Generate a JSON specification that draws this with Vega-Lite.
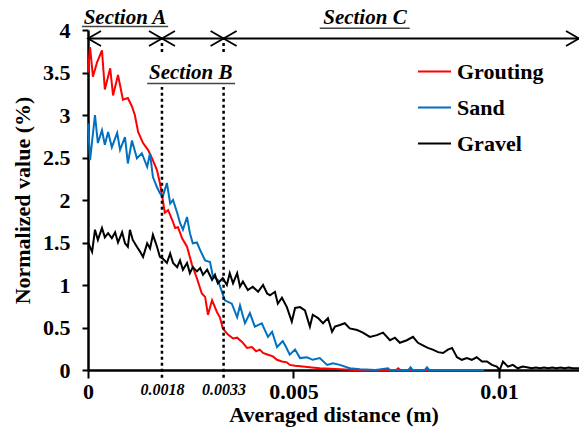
{
  "$schema": "https://vega.github.io/schema/vega-lite/v6.json",
  "width": 491,
  "height": 340,
  "autosize": {"type": "none"},
  "padding": {"left": 88, "top": 30, "right": 0, "bottom": 60},
  "background": "white",
  "config": {
    "view": {"stroke": null},
    "font": "serif",
    "axis": {"grid": false, "domainColor": "black", "tickColor": "black", "labelColor": "black", "titleColor": "black",
      "labelFont": "serif", "titleFont": "serif", "labelFontWeight": "bold", "titleFontWeight": "bold",
      "labelFontSize": 22, "titleFontSize": 22, "domainWidth": 2.5, "tickWidth": 2},
    "legend": {"labelFont": "serif"},
    "text": {"font": "serif"}
  },
  "datasets": {
    "lines": [
      {"s":"Grouting","x":0,"y":3.5},{"s":"Grouting","x":0.00005,"y":3.8},{"s":"Grouting","x":0.00012,"y":3.45},{"s":"Grouting","x":0.00022,"y":3.62},{"s":"Grouting","x":0.00034,"y":3.76},{"s":"Grouting","x":0.00041,"y":3.3},{"s":"Grouting","x":0.00054,"y":3.55},{"s":"Grouting","x":0.00061,"y":3.23},{"s":"Grouting","x":0.00073,"y":3.47},{"s":"Grouting","x":0.00085,"y":3.18},{"s":"Grouting","x":0.00097,"y":3.2},{"s":"Grouting","x":0.00107,"y":3.1},{"s":"Grouting","x":0.00114,"y":3.0},{"s":"Grouting","x":0.00122,"y":2.8},{"s":"Grouting","x":0.00134,"y":2.67},{"s":"Grouting","x":0.00146,"y":2.59},{"s":"Grouting","x":0.00156,"y":2.49},{"s":"Grouting","x":0.00168,"y":2.35},{"s":"Grouting","x":0.00175,"y":2.2},{"s":"Grouting","x":0.00182,"y":2.0},{"s":"Grouting","x":0.00187,"y":1.85},{"s":"Grouting","x":0.00195,"y":1.88},{"s":"Grouting","x":0.00207,"y":1.74},{"s":"Grouting","x":0.00212,"y":1.67},{"s":"Grouting","x":0.00219,"y":1.68},{"s":"Grouting","x":0.00229,"y":1.55},{"s":"Grouting","x":0.00241,"y":1.45},{"s":"Grouting","x":0.00253,"y":1.24},{"s":"Grouting","x":0.00265,"y":1.08},{"s":"Grouting","x":0.00277,"y":0.9},{"s":"Grouting","x":0.00285,"y":0.86},{"s":"Grouting","x":0.00292,"y":0.65},{"s":"Grouting","x":0.00302,"y":0.82},{"s":"Grouting","x":0.00314,"y":0.68},{"s":"Grouting","x":0.00321,"y":0.62},{"s":"Grouting","x":0.00328,"y":0.49},{"s":"Grouting","x":0.0034,"y":0.42},{"s":"Grouting","x":0.00353,"y":0.37},{"s":"Grouting","x":0.00363,"y":0.38},{"s":"Grouting","x":0.00375,"y":0.33},{"s":"Grouting","x":0.00387,"y":0.26},{"s":"Grouting","x":0.00399,"y":0.27},{"s":"Grouting","x":0.00409,"y":0.22},{"s":"Grouting","x":0.00418,"y":0.24},{"s":"Grouting","x":0.00426,"y":0.2},{"s":"Grouting","x":0.00438,"y":0.18},{"s":"Grouting","x":0.0045,"y":0.16},{"s":"Grouting","x":0.0046,"y":0.12},{"s":"Grouting","x":0.00472,"y":0.1},{"s":"Grouting","x":0.00484,"y":0.09},{"s":"Grouting","x":0.00491,"y":0.06},{"s":"Grouting","x":0.00504,"y":0.05},{"s":"Grouting","x":0.00523,"y":0.04},{"s":"Grouting","x":0.00545,"y":0.03},{"s":"Grouting","x":0.00564,"y":0.02},{"s":"Grouting","x":0.0059,"y":0.015},{"s":"Grouting","x":0.00613,"y":0.01},{"s":"Grouting","x":0.0065,"y":0},{"s":"Grouting","x":0.0075,"y":0},{"s":"Grouting","x":0.00755,"y":0.02},{"s":"Grouting","x":0.0076,"y":0},{"s":"Grouting","x":0.0086,"y":0},
      {"s":"Sand","x":0,"y":2.9},{"s":"Sand","x":0.00005,"y":2.47},{"s":"Sand","x":0.00017,"y":3.0},{"s":"Sand","x":0.00024,"y":2.67},{"s":"Sand","x":0.00034,"y":2.82},{"s":"Sand","x":0.00041,"y":2.65},{"s":"Sand","x":0.00049,"y":2.8},{"s":"Sand","x":0.00058,"y":2.62},{"s":"Sand","x":0.00071,"y":2.79},{"s":"Sand","x":0.00078,"y":2.59},{"s":"Sand","x":0.0009,"y":2.74},{"s":"Sand","x":0.00097,"y":2.43},{"s":"Sand","x":0.00107,"y":2.7},{"s":"Sand","x":0.00119,"y":2.49},{"s":"Sand","x":0.00131,"y":2.55},{"s":"Sand","x":0.00144,"y":2.39},{"s":"Sand","x":0.00151,"y":2.55},{"s":"Sand","x":0.00158,"y":2.27},{"s":"Sand","x":0.00168,"y":2.15},{"s":"Sand","x":0.00175,"y":2.08},{"s":"Sand","x":0.00182,"y":2.04},{"s":"Sand","x":0.00192,"y":2.2},{"s":"Sand","x":0.002,"y":1.96},{"s":"Sand","x":0.00207,"y":2.0},{"s":"Sand","x":0.00217,"y":1.85},{"s":"Sand","x":0.00224,"y":1.73},{"s":"Sand","x":0.00231,"y":1.65},{"s":"Sand","x":0.00241,"y":1.8},{"s":"Sand","x":0.00248,"y":1.61},{"s":"Sand","x":0.00255,"y":1.49},{"s":"Sand","x":0.00265,"y":1.5},{"s":"Sand","x":0.00273,"y":1.41},{"s":"Sand","x":0.00285,"y":1.29},{"s":"Sand","x":0.00297,"y":1.27},{"s":"Sand","x":0.00304,"y":1.1},{"s":"Sand","x":0.00316,"y":1.06},{"s":"Sand","x":0.00326,"y":0.92},{"s":"Sand","x":0.00333,"y":0.82},{"s":"Sand","x":0.0035,"y":0.78},{"s":"Sand","x":0.00363,"y":0.62},{"s":"Sand","x":0.0037,"y":0.76},{"s":"Sand","x":0.00382,"y":0.55},{"s":"Sand","x":0.00394,"y":0.67},{"s":"Sand","x":0.00406,"y":0.51},{"s":"Sand","x":0.00423,"y":0.55},{"s":"Sand","x":0.00438,"y":0.39},{"s":"Sand","x":0.00448,"y":0.45},{"s":"Sand","x":0.0046,"y":0.27},{"s":"Sand","x":0.00474,"y":0.34},{"s":"Sand","x":0.00482,"y":0.27},{"s":"Sand","x":0.00491,"y":0.18},{"s":"Sand","x":0.00504,"y":0.24},{"s":"Sand","x":0.00516,"y":0.14},{"s":"Sand","x":0.00533,"y":0.15},{"s":"Sand","x":0.00547,"y":0.12},{"s":"Sand","x":0.00564,"y":0.14},{"s":"Sand","x":0.00582,"y":0.06},{"s":"Sand","x":0.00596,"y":0.08},{"s":"Sand","x":0.00613,"y":0.06},{"s":"Sand","x":0.00637,"y":0.02},{"s":"Sand","x":0.00662,"y":0.01},{"s":"Sand","x":0.007,"y":0},{"s":"Sand","x":0.0073,"y":0.02},{"s":"Sand","x":0.00735,"y":0},{"s":"Sand","x":0.0078,"y":0},{"s":"Sand","x":0.00785,"y":0.03},{"s":"Sand","x":0.0079,"y":0},{"s":"Sand","x":0.0082,"y":0},{"s":"Sand","x":0.00825,"y":0.03},{"s":"Sand","x":0.0083,"y":0},{"s":"Sand","x":0.00964,"y":0},
      {"s":"Gravel","x":0,"y":1.5},{"s":"Gravel","x":0.0001,"y":1.39},{"s":"Gravel","x":0.00017,"y":1.65},{"s":"Gravel","x":0.00024,"y":1.53},{"s":"Gravel","x":0.00034,"y":1.67},{"s":"Gravel","x":0.00041,"y":1.56},{"s":"Gravel","x":0.00049,"y":1.61},{"s":"Gravel","x":0.00058,"y":1.55},{"s":"Gravel","x":0.00066,"y":1.62},{"s":"Gravel","x":0.00073,"y":1.5},{"s":"Gravel","x":0.00083,"y":1.62},{"s":"Gravel","x":0.0009,"y":1.49},{"s":"Gravel","x":0.00097,"y":1.45},{"s":"Gravel","x":0.00102,"y":1.65},{"s":"Gravel","x":0.00109,"y":1.53},{"s":"Gravel","x":0.00119,"y":1.45},{"s":"Gravel","x":0.00127,"y":1.39},{"s":"Gravel","x":0.00134,"y":1.33},{"s":"Gravel","x":0.00144,"y":1.49},{"s":"Gravel","x":0.00151,"y":1.43},{"s":"Gravel","x":0.00158,"y":1.59},{"s":"Gravel","x":0.00168,"y":1.45},{"s":"Gravel","x":0.00175,"y":1.33},{"s":"Gravel","x":0.00182,"y":1.31},{"s":"Gravel","x":0.00192,"y":1.26},{"s":"Gravel","x":0.002,"y":1.37},{"s":"Gravel","x":0.00207,"y":1.26},{"s":"Gravel","x":0.00217,"y":1.21},{"s":"Gravel","x":0.00224,"y":1.29},{"s":"Gravel","x":0.00231,"y":1.18},{"s":"Gravel","x":0.00241,"y":1.26},{"s":"Gravel","x":0.00248,"y":1.14},{"s":"Gravel","x":0.00255,"y":1.21},{"s":"Gravel","x":0.00265,"y":1.16},{"s":"Gravel","x":0.00273,"y":1.2},{"s":"Gravel","x":0.0028,"y":1.12},{"s":"Gravel","x":0.0029,"y":1.18},{"s":"Gravel","x":0.00302,"y":1.06},{"s":"Gravel","x":0.00309,"y":1.12},{"s":"Gravel","x":0.00316,"y":1.02},{"s":"Gravel","x":0.00328,"y":1.08},{"s":"Gravel","x":0.00338,"y":1.0},{"s":"Gravel","x":0.00345,"y":1.14},{"s":"Gravel","x":0.00353,"y":1.02},{"s":"Gravel","x":0.00363,"y":1.14},{"s":"Gravel","x":0.0037,"y":0.98},{"s":"Gravel","x":0.00377,"y":1.04},{"s":"Gravel","x":0.00389,"y":0.94},{"s":"Gravel","x":0.00401,"y":0.98},{"s":"Gravel","x":0.00414,"y":0.92},{"s":"Gravel","x":0.00426,"y":1.0},{"s":"Gravel","x":0.00436,"y":0.9},{"s":"Gravel","x":0.00443,"y":0.88},{"s":"Gravel","x":0.00455,"y":0.92},{"s":"Gravel","x":0.00462,"y":0.78},{"s":"Gravel","x":0.00472,"y":0.85},{"s":"Gravel","x":0.00484,"y":0.74},{"s":"Gravel","x":0.00496,"y":0.57},{"s":"Gravel","x":0.00504,"y":0.73},{"s":"Gravel","x":0.00516,"y":0.74},{"s":"Gravel","x":0.00528,"y":0.7},{"s":"Gravel","x":0.0054,"y":0.51},{"s":"Gravel","x":0.00547,"y":0.65},{"s":"Gravel","x":0.0056,"y":0.61},{"s":"Gravel","x":0.00572,"y":0.55},{"s":"Gravel","x":0.00584,"y":0.61},{"s":"Gravel","x":0.00594,"y":0.45},{"s":"Gravel","x":0.00601,"y":0.51},{"s":"Gravel","x":0.00613,"y":0.53},{"s":"Gravel","x":0.00625,"y":0.55},{"s":"Gravel","x":0.00637,"y":0.49},{"s":"Gravel","x":0.00655,"y":0.47},{"s":"Gravel","x":0.00669,"y":0.44},{"s":"Gravel","x":0.00686,"y":0.39},{"s":"Gravel","x":0.00703,"y":0.41},{"s":"Gravel","x":0.00718,"y":0.44},{"s":"Gravel","x":0.00735,"y":0.35},{"s":"Gravel","x":0.00747,"y":0.38},{"s":"Gravel","x":0.00759,"y":0.32},{"s":"Gravel","x":0.00776,"y":0.35},{"s":"Gravel","x":0.00791,"y":0.39},{"s":"Gravel","x":0.00803,"y":0.32},{"s":"Gravel","x":0.00815,"y":0.29},{"s":"Gravel","x":0.00827,"y":0.26},{"s":"Gravel","x":0.00839,"y":0.24},{"s":"Gravel","x":0.00852,"y":0.21},{"s":"Gravel","x":0.00864,"y":0.2},{"s":"Gravel","x":0.00876,"y":0.24},{"s":"Gravel","x":0.00886,"y":0.26},{"s":"Gravel","x":0.00898,"y":0.15},{"s":"Gravel","x":0.0091,"y":0.12},{"s":"Gravel","x":0.00922,"y":0.14},{"s":"Gravel","x":0.00934,"y":0.12},{"s":"Gravel","x":0.00946,"y":0.15},{"s":"Gravel","x":0.00959,"y":0.1},{"s":"Gravel","x":0.00971,"y":0.1},{"s":"Gravel","x":0.00983,"y":0.06},{"s":"Gravel","x":0.00995,"y":0.04},{"s":"Gravel","x":0.01002,"y":0},{"s":"Gravel","x":0.0101,"y":0.1},{"s":"Gravel","x":0.01022,"y":0.04},{"s":"Gravel","x":0.01034,"y":0.06},{"s":"Gravel","x":0.01046,"y":0.02},{"s":"Gravel","x":0.01058,"y":0.04},{"s":"Gravel","x":0.01071,"y":0.03},{"s":"Gravel","x":0.0108,"y":0.02},{"s":"Gravel","x":0.0109,"y":0.03},{"s":"Gravel","x":0.011,"y":0.02},{"s":"Gravel","x":0.0111,"y":0.03},{"s":"Gravel","x":0.0112,"y":0.02},{"s":"Gravel","x":0.0113,"y":0.03},{"s":"Gravel","x":0.0114,"y":0.02},{"s":"Gravel","x":0.0115,"y":0.03},{"s":"Gravel","x":0.0116,"y":0.02},{"s":"Gravel","x":0.0117,"y":0.03},{"s":"Gravel","x":0.0118,"y":0.02},{"s":"Gravel","x":0.01195,"y":0.02}
    ],
    "dots": [
      {"x":0.0018,"y":-0.09,"y2":3.33},{"x":0.0018,"y":3.74,"y2":3.9},
      {"x":0.0033,"y":-0.09,"y2":3.33},{"x":0.0033,"y":3.74,"y2":3.9}
    ],
    "arrowline": [{"x":0,"x2":0.01195,"y":3.9}],
    "leftheads": [{"x":0,"y":3.9},{"x":0.0018,"y":3.9},{"x":0.0033,"y":3.9}],
    "rightheads": [{"x":0.0018,"y":3.9},{"x":0.0033,"y":3.9},{"x":0.01195,"y":3.9}],
    "sections": [
      {"t":"Section A","x":0.0009,"y":4.07},
      {"t":"Section B","x":0.0025,"y":3.42},
      {"t":"Section C","x":0.00674,"y":4.07}
    ],
    "underlines": [
      {"x":-0.00015,"x2":0.00195,"y":4.04},
      {"x":0.00144,"x2":0.00358,"y":3.37},
      {"x":0.00564,"x2":0.00783,"y":4.02}
    ]
  },
  "layer": [
    {
      "data": {"name": "lines"},
      "mark": {"type": "line", "strokeWidth": 2, "clip": false},
      "encoding": {
        "x": {"field": "x", "type": "quantitative",
          "scale": {"domain": [0, 0.01195], "nice": false, "zero": false},
          "axis": {"values": [0, 0.0018, 0.0033, 0.005, 0.01], "labelExpr": "'' + datum.value",
            "title": "Averaged distance (m)", "titlePadding": 2, "tickSize": 8, "labelPadding": 3,
            "labelFontSize": {"condition": {"test": "datum.value == 0.0018 || datum.value == 0.0033", "value": 16}, "value": 22},
            "labelFontStyle": {"condition": {"test": "datum.value == 0.0018 || datum.value == 0.0033", "value": "italic"}, "value": "normal"},
            "tickOpacity": {"condition": {"test": "datum.value == 0.0018 || datum.value == 0.0033", "value": 0}, "value": 1},
            "labelFlush": false, "labelOverlap": false}},
        "y": {"field": "y", "type": "quantitative",
          "scale": {"domain": [0, 4], "nice": false},
          "axis": {"values": [0, 0.5, 1, 1.5, 2, 2.5, 3, 3.5, 4], "labelExpr": "'' + datum.value", "title": "Normalized value (%)",
            "tickSize": 6, "labelPadding": 12, "titlePadding": 8, "labelFlush": false}},
        "color": {"field": "s", "type": "nominal",
          "scale": {"domain": ["Grouting", "Sand", "Gravel"], "range": ["#FF0000", "#0070C0", "#000000"]},
          "legend": {"title": null, "orient": "none", "legendX": 329, "legendY": 24, "padding": 0,
            "labelFont": "serif", "labelFontSize": 22, "labelFontWeight": "bold", "labelColor": "black",
            "symbolType": "stroke", "symbolSize": 1089, "symbolStrokeWidth": 2, "rowPadding": 7, "labelOffset": 5}},
        "order": {"field": "x", "type": "quantitative"}
      }
    },
    {
      "data": {"name": "dots"},
      "mark": {"type": "rule", "strokeDash": [3, 3], "strokeWidth": 2.5, "color": "black", "clip": false},
      "encoding": {
        "x": {"field": "x", "type": "quantitative"},
        "y": {"field": "y", "type": "quantitative"},
        "y2": {"field": "y2"}
      }
    },
    {
      "data": {"name": "arrowline"},
      "mark": {"type": "rule", "strokeWidth": 2, "color": "black", "clip": false},
      "encoding": {
        "x": {"field": "x", "type": "quantitative"},
        "x2": {"field": "x2"},
        "y": {"field": "y", "type": "quantitative"}
      }
    },
    {
      "data": {"name": "leftheads"},
      "mark": {"type": "point", "shape": "M2.6,-1.5L0,0L2.6,1.5", "size": 100, "filled": false, "strokeWidth": 1.8, "color": "black", "opacity": 1, "clip": false},
      "encoding": {
        "x": {"field": "x", "type": "quantitative"},
        "y": {"field": "y", "type": "quantitative"}
      }
    },
    {
      "data": {"name": "rightheads"},
      "mark": {"type": "point", "shape": "M-2.6,-1.5L0,0L-2.6,1.5", "size": 100, "filled": false, "strokeWidth": 1.8, "color": "black", "opacity": 1, "clip": false},
      "encoding": {
        "x": {"field": "x", "type": "quantitative"},
        "y": {"field": "y", "type": "quantitative"}
      }
    },
    {
      "data": {"name": "sections"},
      "mark": {"type": "text", "font": "serif", "fontSize": 21, "fontWeight": "bold", "fontStyle": "italic", "align": "center", "baseline": "alphabetic", "color": "black", "clip": false},
      "encoding": {
        "x": {"field": "x", "type": "quantitative"},
        "y": {"field": "y", "type": "quantitative"},
        "text": {"field": "t"}
      }
    },
    {
      "data": {"name": "underlines"},
      "mark": {"type": "rule", "strokeWidth": 1.5, "color": "#444444", "clip": false},
      "encoding": {
        "x": {"field": "x", "type": "quantitative"},
        "x2": {"field": "x2"},
        "y": {"field": "y", "type": "quantitative"}
      }
    }
  ]
}
